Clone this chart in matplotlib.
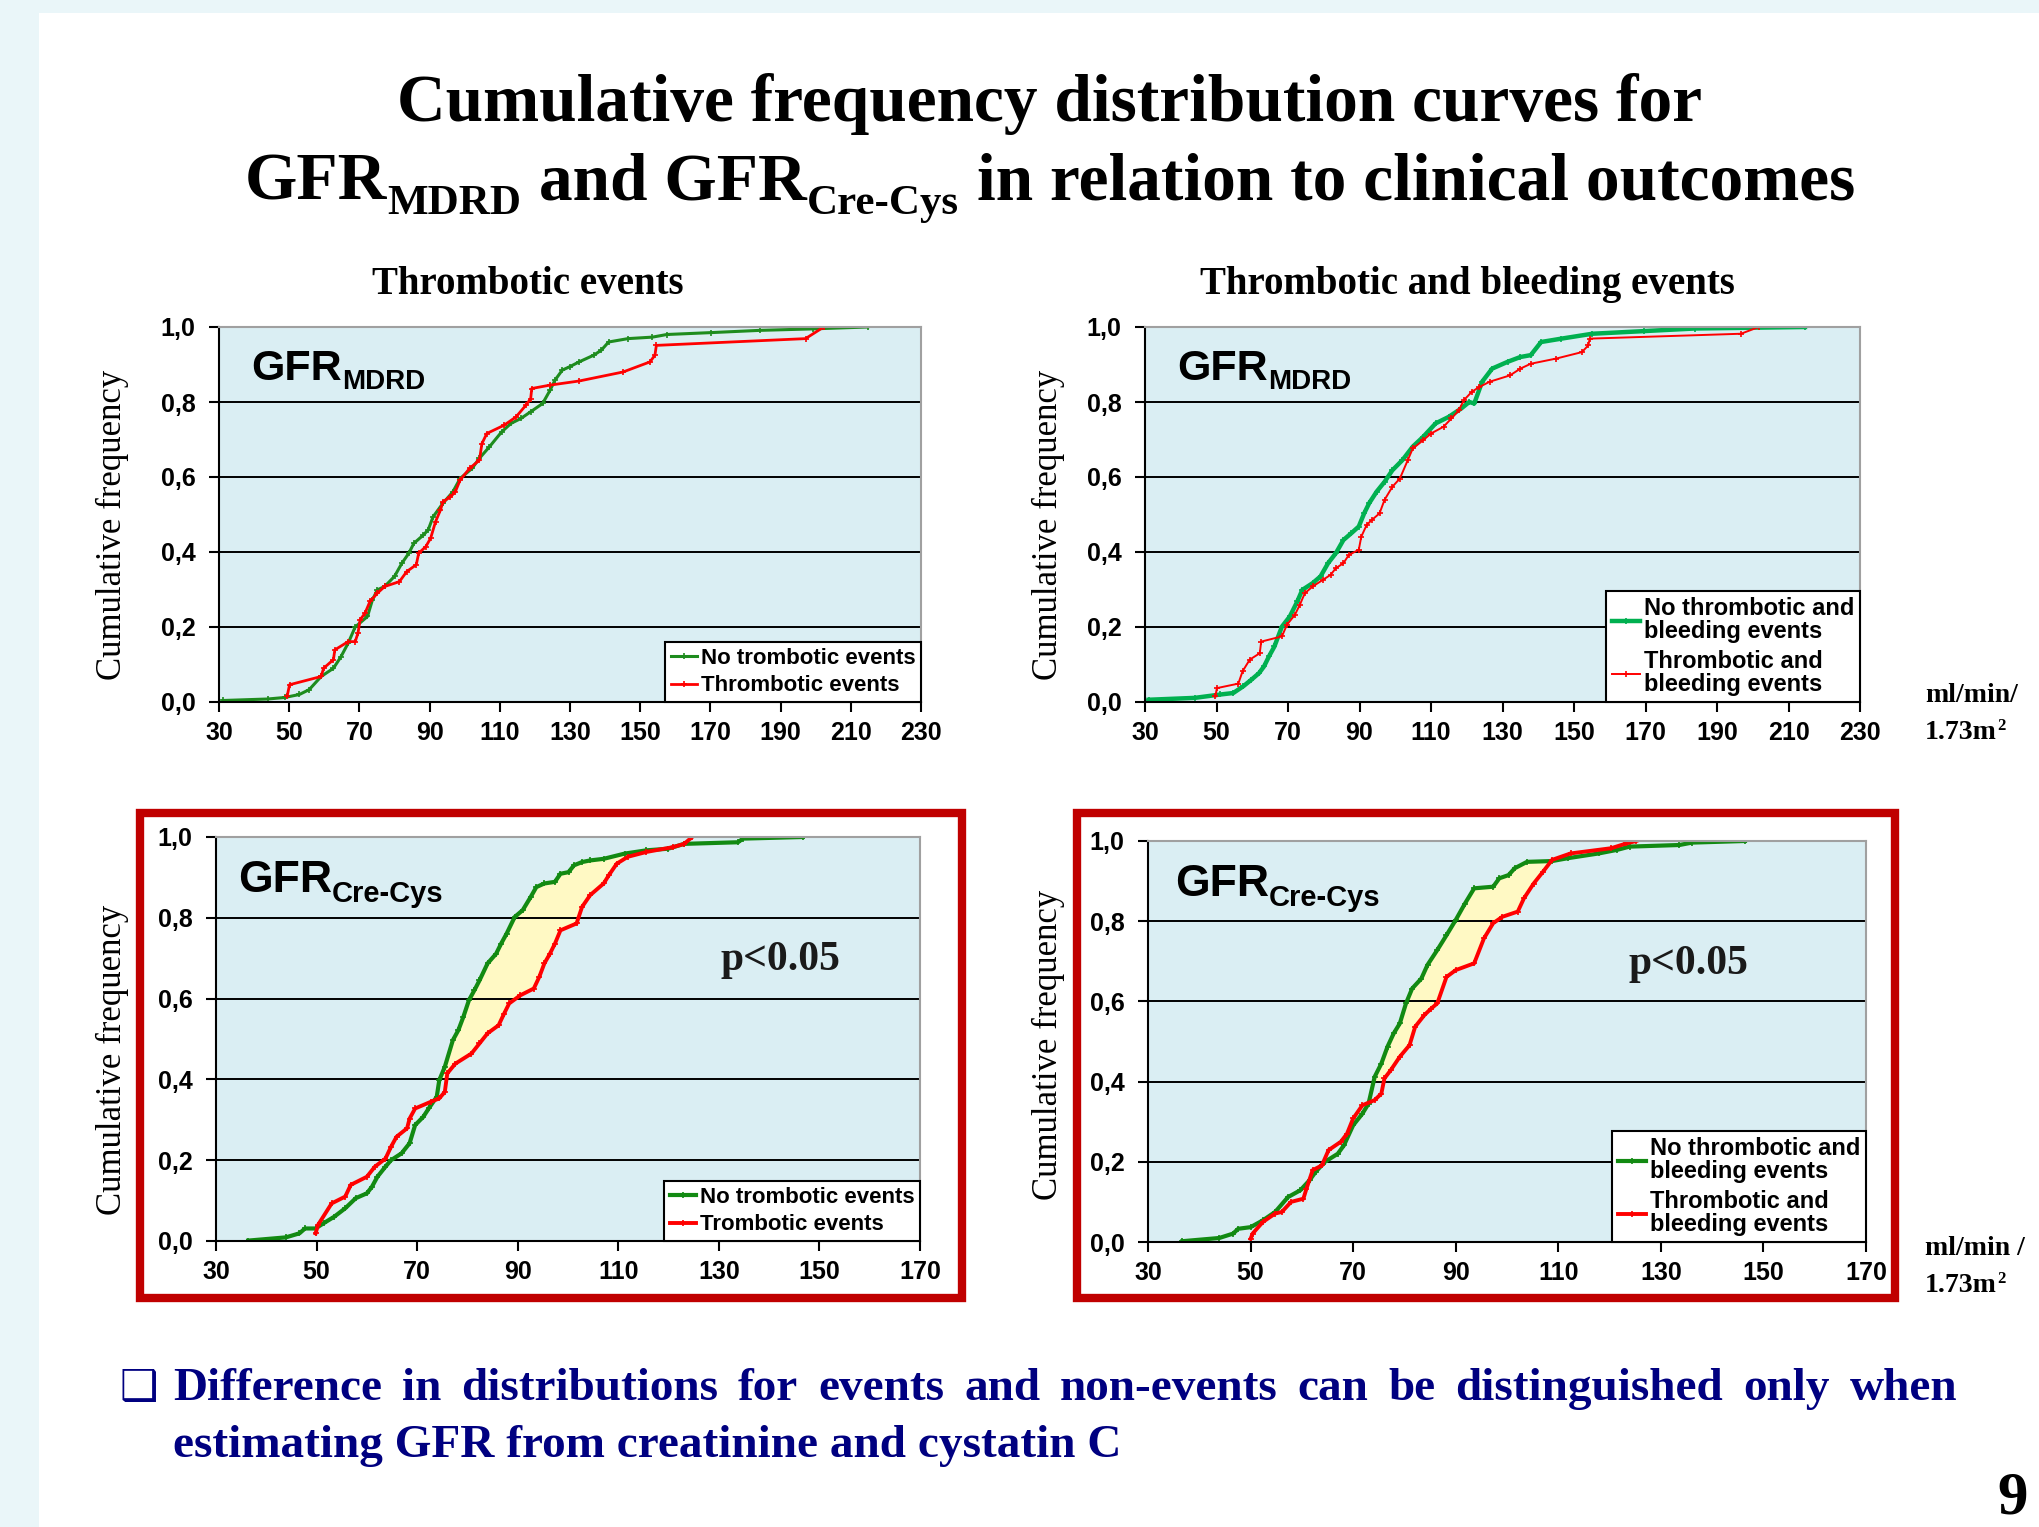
import numpy as np
import matplotlib.pyplot as plt
from matplotlib.patches import Rectangle

W, H = 2039, 1527

# ---- data (GFR in ml/min/1.73m2, cumulative frequency) ----
# top left: GFR MDRD, thrombotic events
tl_no_x = [31.1, 43.9, 48.7, 52.9, 55.7, 59.1, 62.6, 64.7, 66.8, 68.8, 72.3, 73.7, 75.1, 77.2, 80.0, 82.1,
           84.1, 85.5, 88.2, 89.6, 91.0, 93.8, 96.6, 98.7, 102.1, 104.2, 107.0, 110.5, 113.2, 116.0, 118.8,
           122.2, 124.3, 125.7, 127.8, 129.9, 132.6, 136.8, 138.9, 141.0, 146.5, 153.5, 157.6, 170.1, 184.0,
           199.2, 214.8]
tl_no_y = [0.004, 0.008, 0.012, 0.020, 0.033, 0.068, 0.090, 0.120, 0.157, 0.200, 0.228, 0.272, 0.299, 0.308,
           0.335, 0.370, 0.397, 0.423, 0.445, 0.459, 0.494, 0.530, 0.560, 0.596, 0.623, 0.650, 0.680, 0.720,
           0.743, 0.756, 0.774, 0.796, 0.831, 0.858, 0.885, 0.894, 0.907, 0.925, 0.938, 0.960, 0.969, 0.973,
           0.980, 0.985, 0.991, 0.995, 1.000]
tl_ev_x = [49.4, 50.1, 59.1, 59.8, 62.6, 63.0, 66.8, 68.8, 69.6, 70.2, 71.6, 73.0, 75.1, 77.2, 81.4, 83.5,
           86.2, 86.9, 88.9, 90.3, 91.7, 93.1, 93.8, 95.9, 97.3, 98.7, 101.4, 104.2, 104.9, 106.3, 111.2,
           114.6, 117.4, 118.8, 119.1, 124.3, 132.6, 145.1, 152.8, 154.2, 154.6, 197.1, 202.3]
tl_ev_y = [0.015, 0.046, 0.068, 0.090, 0.113, 0.139, 0.161, 0.161, 0.184, 0.219, 0.237, 0.268, 0.290, 0.308,
           0.321, 0.348, 0.366, 0.397, 0.414, 0.437, 0.481, 0.512, 0.534, 0.547, 0.560, 0.592, 0.623, 0.645,
           0.689, 0.716, 0.738, 0.760, 0.791, 0.809, 0.836, 0.845, 0.856, 0.880, 0.907, 0.925, 0.951, 0.969,
           1.000]

# top right: GFR MDRD, thrombotic and bleeding events
tr_no_x = [31.0, 43.9, 51.1, 54.7, 57.5, 59.7, 61.9, 63.3, 64.7, 66.2, 68.3, 70.5, 72.6, 74.0, 76.9, 79.1,
           81.2, 83.4, 85.5, 87.7, 89.8, 91.3, 92.7, 94.8, 97.0, 99.2, 102.0, 104.9, 107.8, 111.3, 114.9,
           118.5, 120.7, 122.1, 124.3, 127.1, 131.4, 135.0, 137.9, 140.8, 146.5, 155.1, 169.5, 183.8, 214.6]
tr_no_y = [0.006, 0.011, 0.020, 0.024, 0.042, 0.059, 0.077, 0.095, 0.122, 0.148, 0.201, 0.228, 0.268, 0.299,
           0.317, 0.335, 0.370, 0.397, 0.432, 0.450, 0.468, 0.503, 0.530, 0.561, 0.587, 0.618, 0.645, 0.681,
           0.707, 0.743, 0.760, 0.783, 0.800, 0.796, 0.854, 0.889, 0.907, 0.920, 0.925, 0.960, 0.969, 0.982,
           0.989, 0.996, 1.000]
tr_ev_x = [49.7, 50.1, 56.1, 57.3, 59.3, 62.1, 62.5, 68.3, 69.7, 71.9, 73.3, 74.7, 76.9, 79.8, 81.9, 83.4,
           85.5, 87.0, 89.8, 90.5, 92.0, 93.4, 95.6, 97.0, 99.2, 101.3, 103.5, 104.9, 107.8, 110.0, 113.5,
           115.7, 117.8, 119.2, 121.4, 123.5, 126.4, 132.1, 135.0, 137.9, 145.1, 152.2, 154.0, 154.4, 196.7,
           201.7]
tr_ev_y = [0.015, 0.037, 0.049, 0.082, 0.113, 0.130, 0.161, 0.175, 0.206, 0.232, 0.259, 0.290, 0.308, 0.326,
           0.339, 0.357, 0.370, 0.392, 0.406, 0.441, 0.472, 0.485, 0.503, 0.539, 0.574, 0.596, 0.645, 0.676,
           0.698, 0.716, 0.734, 0.756, 0.778, 0.805, 0.827, 0.840, 0.854, 0.871, 0.889, 0.902, 0.916, 0.933,
           0.951, 0.969, 0.982, 1.000]

# bottom left: GFR Cre-Cys, thrombotic events
bl_no_x = [36.4, 43.9, 46.6, 47.7, 49.8, 51.4, 53.5, 55.7, 57.8, 60.0, 61.0, 62.1, 63.7, 64.8, 66.9, 68.5,
           69.6, 71.2, 72.3, 73.9, 74.4, 75.5, 77.1, 78.2, 79.2, 80.3, 81.4, 82.4, 84.0, 85.7, 86.7, 87.8,
           89.4, 91.0, 92.6, 93.7, 95.3, 97.4, 98.5, 100.1, 101.2, 102.8, 104.4, 107.1, 111.3, 115.6, 119.9,
           123.1, 133.8, 134.8, 146.7]
bl_no_y = [0.001, 0.009, 0.019, 0.031, 0.031, 0.044, 0.060, 0.081, 0.106, 0.118, 0.134, 0.159, 0.184, 0.200,
           0.217, 0.242, 0.287, 0.307, 0.328, 0.357, 0.398, 0.431, 0.497, 0.522, 0.555, 0.596, 0.621, 0.645,
           0.687, 0.711, 0.736, 0.761, 0.802, 0.819, 0.852, 0.876, 0.885, 0.889, 0.909, 0.913, 0.930, 0.938,
           0.942, 0.946, 0.959, 0.967, 0.971, 0.983, 0.987, 0.996, 1.000]
bl_ev_x = [49.8, 50.3, 53.0, 55.7, 56.8, 60.0, 61.6, 63.7, 64.8, 65.9, 68.0, 68.5, 69.6, 72.8, 74.4, 75.5,
           76.0, 77.6, 80.8, 82.4, 84.0, 86.2, 87.3, 88.3, 90.5, 93.2, 94.3, 95.3, 96.4, 97.4, 98.5, 101.7,
           102.8, 104.4, 107.1, 108.1, 109.7, 111.9, 115.6, 120.9, 123.1, 124.7]
bl_ev_y = [0.019, 0.040, 0.093, 0.110, 0.139, 0.159, 0.184, 0.204, 0.233, 0.258, 0.279, 0.303, 0.328, 0.345,
           0.353, 0.369, 0.415, 0.439, 0.464, 0.489, 0.514, 0.534, 0.563, 0.588, 0.608, 0.625, 0.654, 0.687,
           0.711, 0.736, 0.769, 0.786, 0.827, 0.856, 0.885, 0.905, 0.934, 0.951, 0.963, 0.975, 0.983, 1.000]

# bottom right: GFR Cre-Cys, thrombotic and bleeding events
br_no_x = [36.7, 43.9, 46.6, 47.6, 50.0, 52.4, 54.8, 57.3, 59.7, 61.5, 62.7, 64.5, 67.0, 68.2, 70.0, 71.8,
           73.0, 74.2, 75.5, 76.7, 77.9, 79.1, 80.3, 81.5, 83.3, 84.5, 86.4, 88.2, 90.0, 91.8, 93.6, 97.3,
           98.5, 100.3, 101.5, 103.9, 108.8, 111.8, 117.9, 121.5, 123.9, 133.6, 136.1, 146.4]
br_no_y = [0.002, 0.010, 0.021, 0.033, 0.037, 0.054, 0.075, 0.112, 0.129, 0.154, 0.175, 0.200, 0.220, 0.241,
           0.291, 0.320, 0.345, 0.412, 0.445, 0.487, 0.520, 0.545, 0.595, 0.632, 0.657, 0.691, 0.728, 0.765,
           0.803, 0.844, 0.882, 0.886, 0.907, 0.915, 0.932, 0.948, 0.950, 0.957, 0.969, 0.978, 0.986, 0.990,
           0.996, 1.000]
br_ev_x = [50.0, 50.4, 52.4, 54.8, 56.1, 57.9, 60.3, 60.9, 62.1, 63.9, 65.2, 67.6, 68.8, 70.0, 71.8, 74.2,
           75.5, 76.1, 77.3, 79.1, 81.0, 82.1, 83.9, 85.2, 86.4, 88.2, 90.0, 93.6, 95.5, 97.3, 99.1, 102.1,
           103.3, 105.2, 107.0, 108.8, 112.4, 120.3, 123.3, 125.2]
br_ev_y = [0.008, 0.021, 0.050, 0.071, 0.075, 0.100, 0.108, 0.133, 0.179, 0.191, 0.229, 0.250, 0.270, 0.308,
           0.341, 0.354, 0.370, 0.408, 0.428, 0.462, 0.491, 0.537, 0.566, 0.582, 0.595, 0.661, 0.678, 0.695,
           0.757, 0.795, 0.811, 0.824, 0.857, 0.894, 0.923, 0.953, 0.969, 0.982, 0.994, 1.000]

y_ticks = [0.0, 0.2, 0.4, 0.6, 0.8, 1.0]
y_ticklabels = ["0,0", "0,2", "0,4", "0,6", "0,8", "1,0"]
x_ticks_mdrd = [30, 50, 70, 90, 110, 130, 150, 170, 190, 210, 230]
x_ticks_cc = [30, 50, 70, 90, 110, 130, 150, 170]

lab_thr = ["No trombotic events", "Thrombotic events"]
lab_thr_cc = ["No trombotic events", "Trombotic events"]
lab_tb = ["No thrombotic and\nbleeding events", "Thrombotic and\nbleeding events"]

SERIF = "Liberation Serif"
SANS = "Liberation Sans"
BG_AX = "#DAEEF3"
RED = "#FF0000"

fig = plt.figure(figsize=(W / 100, H / 100), dpi=100)
fig.patch.set_facecolor("#EAF6F9")
fig.add_artist(Rectangle((39 / W, 0), 1, 1 - 13 / H, transform=fig.transFigure,
                         facecolor="white", edgecolor="none", zorder=-5))


def fx(px):
    return px / W


def fy(py):
    return 1 - py / H


def chain(parts, x, y, align="left", **kw):
    # parts: (text, size, dy in px, gap before in px)
    objs = [fig.text(0, fy(y + dy), s, fontsize=size, ha="left", va="baseline", **kw)
            for s, size, dy, gap in parts]
    r = fig.canvas.get_renderer()
    widths = [o.get_window_extent(r).width for o in objs]
    gaps = [p[3] for p in parts]
    cur = x - (sum(widths) + sum(gaps)) / 2 if align == "center" else x
    for o, w, g in zip(objs, widths, gaps):
        cur += g
        o.set_x(fx(cur))
        cur += w


def make_axes(box, xmax, xticks):
    x0, y0, x1, y1 = box
    ax = fig.add_axes([fx(x0), fy(y1), (x1 - x0) / W, (y1 - y0) / H])
    ax.set_facecolor(BG_AX)
    ax.set_xlim(30, xmax)
    ax.set_ylim(0, 1)
    ax.set_xticks(xticks)
    ax.set_yticks(y_ticks)
    ax.set_yticklabels(y_ticklabels)
    for s in ["top", "right"]:
        ax.spines[s].set_color("#A0A0A0")
        ax.spines[s].set_linewidth(1.5)
    for s in ["left", "bottom"]:
        ax.spines[s].set_color("black")
        ax.spines[s].set_linewidth(1.5)
    ax.tick_params(direction="out", length=7, width=1.5, labelsize=18)
    ax.tick_params(axis="y", pad=10)
    ax.tick_params(axis="x", pad=7)
    for lab in ax.get_xticklabels() + ax.get_yticklabels():
        lab.set_fontweight("bold")
        lab.set_family(SANS)
    for lev in y_ticks[1:-1]:
        ax.axhline(lev, color="black", lw=1.4, zorder=0.5)
    return ax


def add_legend(ax, size):
    leg = ax.legend(loc="lower right", bbox_to_anchor=(1, 0), borderaxespad=0,
                    prop={"family": SANS, "weight": "bold", "size": size},
                    fancybox=False, framealpha=1, edgecolor="black",
                    handlelength=1.2, handletextpad=0.15, borderpad=0.25, labelspacing=0.3)
    leg.get_frame().set_linewidth(1.5)
    for t in leg.get_texts():
        t.set_linespacing(1.0)
    leg.set_zorder(5)
    return leg


# ---- panels ----
ax1 = make_axes((219, 327, 921, 702), 230, x_ticks_mdrd)
ax1.plot(tl_no_x, tl_no_y, color="#1E8C1E", lw=2.2, marker="+", ms=5, mew=1.2, label=lab_thr[0])
ax1.plot(tl_ev_x, tl_ev_y, color=RED, lw=2.0, marker="+", ms=5, mew=1.2, label=lab_thr[1])
add_legend(ax1, 16)

ax2 = make_axes((1145, 327, 1860, 702), 230, x_ticks_mdrd)
ax2.plot(tr_no_x, tr_no_y, color="#00B050", lw=3.2, marker="+", ms=5, mew=1.2, label=lab_tb[0])
ax2.plot(tr_ev_x, tr_ev_y, color=RED, lw=1.4, marker="+", ms=5, mew=1.2, label=lab_tb[1])
add_legend(ax2, 17)

ax3 = make_axes((216, 837, 920, 1241), 170, x_ticks_cc)
ax3.plot(bl_no_x, bl_no_y, color="#128A12", lw=3.0, marker="+", ms=5, mew=1.2, label=lab_thr_cc[0])
ax3.plot(bl_ev_x, bl_ev_y, color=RED, lw=2.8, marker="+", ms=5, mew=1.2, label=lab_thr_cc[1])
add_legend(ax3, 16)

ax4 = make_axes((1148, 841, 1866, 1242), 170, x_ticks_cc)
ax4.plot(br_no_x, br_no_y, color="#128A12", lw=3.0, marker="+", ms=5, mew=1.2, label=lab_tb[0])
ax4.plot(br_ev_x, br_ev_y, color=RED, lw=2.8, marker="+", ms=5, mew=1.2, label=lab_tb[1])
add_legend(ax4, 17)

# yellow area between the Cre-Cys curves
for ax, nx, ny, ex, ey, y0, y1 in [(ax3, bl_no_x, bl_no_y, bl_ev_x, bl_ev_y, 0.40, 0.965),
                                    (ax4, br_no_x, br_no_y, br_ev_x, br_ev_y, 0.40, 0.955)]:
    yy = np.linspace(y0, y1, 400)
    xg = np.interp(yy, ny, nx)
    xr = np.interp(yy, ey, ex)
    ax.fill_betweenx(yy, xg, xr, where=xg < xr, interpolate=True, color="#FFF9C4", lw=0, zorder=0.3)

# red frames round the lower panels
for x0, x1 in [(140, 962), (1077, 1895)]:
    fig.add_artist(Rectangle((fx(x0), fy(1298)), (x1 - x0) / W, (1298 - 813) / H,
                             transform=fig.transFigure, fill=False, edgecolor="#C00000", lw=6))

# GFR labels inside panels
chain([("GFR", 31, 0, 0), ("MDRD", 20, 9, 0)], 251, 380, family=SANS, weight="bold")
chain([("GFR", 31, 0, 0), ("MDRD", 20, 9, 0)], 1177, 380, family=SANS, weight="bold")
chain([("GFR", 32, 0, 0), ("Cre-Cys", 21, 10, 0)], 238, 892, family=SANS, weight="bold")
chain([("GFR", 32, 0, 0), ("Cre-Cys", 21, 10, 0)], 1175, 896, family=SANS, weight="bold")

fig.text(fx(780), fy(960), "p<0.05", fontsize=30, family=SERIF, weight="bold", color="#1A1A1A",
         ha="center", va="center")
fig.text(fx(1688), fy(964), "p<0.05", fontsize=30, family=SERIF, weight="bold", color="#1A1A1A",
         ha="center", va="center")

# axis labels
for xc, yc in [(112, 525), (1048, 525), (112, 1060), (1048, 1045)]:
    fig.text(fx(xc), fy(yc), "Cumulative frequency", fontsize=25, family=SERIF, rotation=90,
             ha="center", va="center")

chain([("ml/min/", 20, 0, 0)], 1925, 702, family=SERIF, weight="bold")
chain([("1.73m", 20, 0, 0), ("2", 12, -9, 0)], 1925, 739, family=SERIF, weight="bold")
chain([("ml/min /", 20, 0, 0)], 1925, 1255, family=SERIF, weight="bold")
chain([("1.73m", 20, 0, 0), ("2", 12, -9, 0)], 1925, 1292, family=SERIF, weight="bold")

# titles
fig.text(fx(1050), fy(121), "Cumulative frequency distribution curves for", fontsize=48.5,
         family=SERIF, weight="bold", ha="center", va="baseline")
chain([("GFR", 48.5, 0, 0), ("MDRD", 31, 14, 0), ("and GFR", 48.5, 0, 18), ("Cre-Cys", 31, 14, 0),
       ("in relation to clinical outcomes", 48.5, 0, 18)], 1050, 200, align="center",
      family=SERIF, weight="bold")
fig.text(fx(528), fy(294), "Thrombotic events", fontsize=28, family=SERIF, weight="bold",
         ha="center", va="baseline")
fig.text(fx(1467), fy(294), "Thrombotic and bleeding events", fontsize=28, family=SERIF, weight="bold",
         ha="center", va="baseline")

# bottom note, first line justified
NAVY = "#000080"
fig.text(fx(119), fy(1400), "\u2751", fontsize=31, family=["DejaVu Sans"], color=NAVY, va="baseline")
words = "Difference in distributions for events and non-events can be distinguished only when".split()
objs = [fig.text(0, fy(1400), w, fontsize=34, family=SERIF, weight="bold", color=NAVY, va="baseline")
        for w in words]
rend = fig.canvas.get_renderer()
wid = [o.get_window_extent(rend).width for o in objs]
gap = (1957 - 173 - sum(wid)) / (len(words) - 1)
cur = 173
for o, w in zip(objs, wid):
    o.set_x(fx(cur))
    cur += w + gap
fig.text(fx(173), fy(1457), "estimating GFR from creatinine and cystatin C", fontsize=34, family=SERIF,
         weight="bold", color=NAVY, va="baseline")
fig.text(fx(2013), fy(1513), "9", fontsize=44, family=SERIF, weight="bold", ha="center", va="baseline")

fig.savefig("out.png", dpi=100, facecolor=fig.get_facecolor())
